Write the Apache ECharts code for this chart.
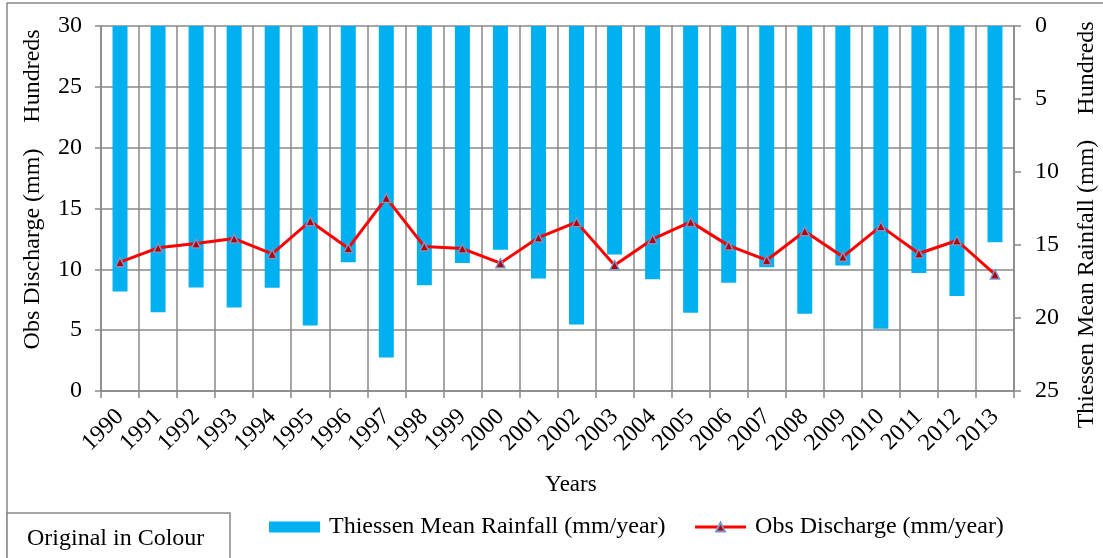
<!DOCTYPE html>
<html>
<head>
<meta charset="utf-8">
<script src="https://cdn.jsdelivr.net/npm/echarts@6/dist/echarts.min.js"></script>
<style>
  html, body { margin: 0; padding: 0; background: #fff; }
  #chart { width: 1103px; height: 558px; }
</style>
</head>
<body>
<div id="chart"></div>
<script>
// Annual series, values in mm (axes display them in hundreds)
const years = ['1990','1991','1992','1993','1994','1995','1996','1997','1998','1999','2000','2001',
               '2002','2003','2004','2005','2006','2007','2008','2009','2010','2011','2012','2013'];
const rainfall = [1819, 1960, 1791, 1928, 1793, 2051, 1618, 2270, 1775, 1624, 1533, 1729,
                  2044, 1565, 1734, 1964, 1759, 1652, 1971, 1640, 2074, 1691, 1850, 1481];
const discharge = [1059, 1177, 1212, 1253, 1127, 1396, 1174, 1587, 1187, 1171, 1051, 1261,
                   1388, 1034, 1248, 1390, 1195, 1075, 1313, 1103, 1355, 1130, 1237, 958];

const FONT = "'Liberation Serif', 'Times New Roman', serif";
const GRID_COLOR = '#888888';
const hundreds = v => String(v / 100);

const chart = echarts.init(document.getElementById('chart'), null, { renderer: 'canvas' });

chart.setOption({
  backgroundColor: '#fff',
  animation: false,
  textStyle: { fontFamily: FONT, color: '#000' },
  grid: { left: 101, right: 89, top: 26, height: 365, containLabel: false },
  legend: {
    left: 264, top: 510,
    itemWidth: 51, itemHeight: 11, itemGap: 28,
    textStyle: { fontFamily: FONT, fontSize: 24, color: '#000', padding: [0, 0, 0, 4] },
    data: [
      { name: 'Thiessen Mean Rainfall (mm/year)', icon: 'rect' },
      { name: 'Obs Discharge (mm/year)', lineStyle: { width: 3, color: '#FF0000' } }
    ]
  },
  xAxis: {
    type: 'category',
    data: years,
    boundaryGap: true,
    name: 'Years',
    nameLocation: 'middle',
    nameGap: 82,
    nameTextStyle: { fontFamily: FONT, fontSize: 23, color: '#000', padding: [0, 0, 0, 27] },
    axisLine: { lineStyle: { color: GRID_COLOR, width: 1.5 } },
    axisTick: { show: true, interval: 0, length: 7, lineStyle: { color: GRID_COLOR, width: 1.5 } },
    axisLabel: { interval: 0, rotate: 45, margin: 22, fontFamily: FONT, fontSize: 24, color: '#000' },
    splitLine: { show: true, interval: 0, lineStyle: { color: GRID_COLOR, width: 1.5 } }
  },
  yAxis: [
    {
      type: 'value',
      position: 'left',
      min: 0, max: 3000, interval: 500,
      axisLine: { show: true, lineStyle: { color: GRID_COLOR, width: 1.5 } },
      axisTick: { show: true, length: 6, lineStyle: { color: GRID_COLOR, width: 1.5 } },
      axisLabel: { formatter: hundreds, margin: 19, fontFamily: FONT, fontSize: 24, color: '#000' },
      splitLine: { show: true, lineStyle: { color: GRID_COLOR, width: 1.5 } }
    },
    {
      type: 'value',
      position: 'right',
      inverse: true,
      min: 0, max: 2500, interval: 500,
      axisLine: { show: true, lineStyle: { color: GRID_COLOR, width: 1.5 } },
      axisTick: { show: true, length: 7, lineStyle: { color: GRID_COLOR, width: 1.5 } },
      axisLabel: { formatter: hundreds, margin: 21, fontFamily: FONT, fontSize: 24, color: '#000' },
      splitLine: { show: false }
    }
  ],
  series: [
    {
      name: 'Thiessen Mean Rainfall (mm/year)',
      type: 'bar',
      yAxisIndex: 1,
      data: rainfall,
      barWidth: 15,
      itemStyle: { color: '#00B0F0' },
      z: 2
    },
    {
      name: 'Obs Discharge (mm/year)',
      type: 'line',
      yAxisIndex: 0,
      data: discharge,
      symbol: 'triangle',
      symbolSize: 9,
      showAllSymbol: true,
      lineStyle: { color: '#FF0000', width: 3 },
      itemStyle: { color: '#B00000', borderColor: '#7a94c8', borderWidth: 1.5 },
      z: 3
    }
  ],
  graphic: [
    // outer frame
    { type: 'rect', z: -10, shape: { x: 7, y: 3, width: 1200, height: 600 },
      style: { fill: null, stroke: GRID_COLOR, lineWidth: 1.5 } },
    // left axis titles
    { type: 'text', x: 33, y: 249, rotation: Math.PI / 2,
      style: { text: 'Obs Discharge (mm)', font: '24px ' + FONT, fill: '#000', align: 'center', verticalAlign: 'middle' } },
    { type: 'text', x: 33, y: 76, rotation: Math.PI / 2,
      style: { text: 'Hundreds', font: '24px ' + FONT, fill: '#000', align: 'center', verticalAlign: 'middle' } },
    // right axis titles
    { type: 'text', x: 1087, y: 68, rotation: Math.PI / 2,
      style: { text: 'Hundreds', font: '24px ' + FONT, fill: '#000', align: 'center', verticalAlign: 'middle' } },
    { type: 'text', x: 1087, y: 284, rotation: Math.PI / 2,
      style: { text: 'Thiessen Mean Rainfall (mm)', font: '24px ' + FONT, fill: '#000', align: 'center', verticalAlign: 'middle' } },
    // caption box
    { type: 'rect', shape: { x: 7, y: 513, width: 223, height: 60 },
      style: { fill: '#fff', stroke: GRID_COLOR, lineWidth: 1.5 } },
    { type: 'text', x: 27, y: 539,
      style: { text: 'Original in Colour', font: '24px ' + FONT, fill: '#000', align: 'left', verticalAlign: 'middle' } }
  ]
});
</script>
</body>
</html>
